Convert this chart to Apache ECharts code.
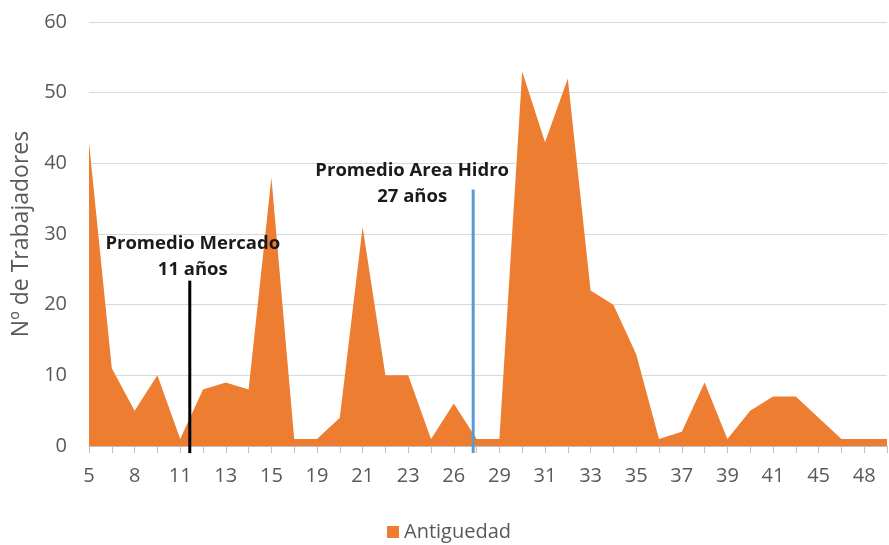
<!DOCTYPE html>
<html>
<head>
<meta charset="utf-8">
<script src="https://cdn.jsdelivr.net/npm/echarts@6/dist/echarts.min.js"></script>
<style>
  html, body { margin: 0; padding: 0; background: #fff; }
  #chart { width: 889px; height: 545px; }
</style>
</head>
<body>
<div id="chart"></div>
<script>
// Years of service (antigüedad) buckets
const categories = ['5','6','8','9','11','12','13','14','15','18','19','20','21','22','23','25','26','27','29','30',
                    '31','32','33','34','35','36','37','38','39','40','41','42','45','46','48','49'];
// Number of workers per bucket
const antiguedad = [43, 11, 5, 10, 1, 8, 9, 8, 38, 1, 1, 4, 31, 10, 10, 1, 6, 1, 1, 53,
                    43, 52, 22, 20, 13, 1, 2, 9, 1, 5, 7, 7, 4, 1, 1, 1];
const yTicks = [0, 10, 20, 30, 40, 50, 60];

// Average tenure reference lines (position on the category scale, line top value)
const avgMercado = { label: 'Promedio Mercado\n11 años', pos: 4.42, top: 23.4 };
const avgHidro   = { label: 'Promedio Area Hidro\n27 años', pos: 16.85, top: 36.3 };

const FONT = '"Open Sans", Lato, sans-serif';
const chart = echarts.init(document.getElementById('chart'));

function refLine(avg, color, labelOffset, distance) {
  return {
    type: 'line', xAxisIndex: 1, clip: false, silent: true,
    symbol: 'circle', symbolSize: 0, showSymbol: true,
    itemStyle: { color: color },
    lineStyle: { color: color, width: 3 },
    data: [[avg.pos, -1], {
      value: [avg.pos, avg.top],
      label: { show: true, position: 'top', distance: distance, formatter: avg.label,
               color: '#1b1b1b', fontWeight: 'bold', fontSize: 18.5, lineHeight: 26,
               fontFamily: FONT, offset: labelOffset }
    }]
  };
}

chart.setOption({
  animation: false,
  grid: { left: 89, right: 2, top: 22, bottom: 99 },
  legend: {
    top: 517, left: 382,
    icon: 'rect', itemWidth: 12, itemHeight: 12, itemGap: 6,
    data: ['Antiguedad'],
    textStyle: { color: '#595959', fontSize: 20, fontFamily: FONT }
  },
  xAxis: [{
    type: 'category',
    data: categories,
    boundaryGap: false,
    axisLine: { lineStyle: { color: '#bfbfbf' } },
    axisTick: { show: true, interval: 0, length: 7, lineStyle: { color: '#bfbfbf' } },
    axisLabel: { interval: 1, color: '#595959', fontSize: 20, fontFamily: FONT, margin: 20 },
    splitLine: { show: false }
  }, {
    type: 'value', min: 0, max: categories.length - 1, show: false
  }],
  yAxis: {
    type: 'value', min: yTicks[0], max: yTicks[yTicks.length - 1], interval: 10,
    name: 'Nº de Trabajadores', nameLocation: 'middle', nameGap: 55,
    nameTextStyle: { color: '#595959', fontSize: 23, fontFamily: FONT },
    axisLine: { show: false }, axisTick: { show: false },
    axisLabel: { color: '#595959', fontSize: 20, fontFamily: FONT, margin: 22 },
    splitLine: { lineStyle: { color: '#d9d9d9', width: 1 } }
  },
  series: [{
    name: 'Antiguedad',
    type: 'line',
    data: antiguedad,
    symbol: 'none',
    itemStyle: { color: '#ed7d31' },
    lineStyle: { width: 0, color: '#ed7d31' },
    areaStyle: { color: '#ed7d31', opacity: 1 }
  },
  refLine(avgMercado, '#000000', [3, 6], 4),
  refLine(avgHidro, '#5b9bd5', [-61, 20], 0)
  ]
});
</script>
</body>
</html>
